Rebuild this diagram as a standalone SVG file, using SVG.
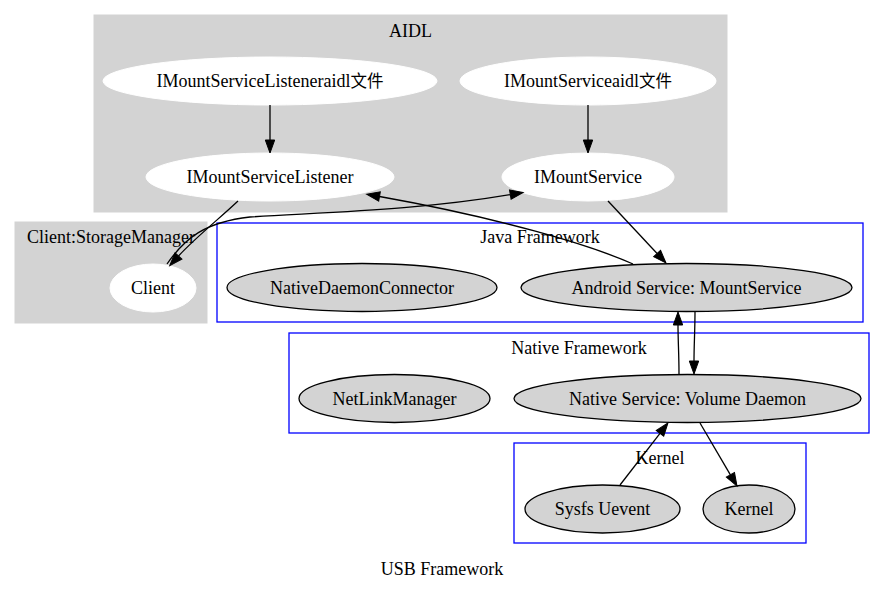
<svg xmlns="http://www.w3.org/2000/svg" width="885" height="591" viewBox="0 0 885 591">
<style>
text{font-family:"Liberation Serif","Noto Sans CJK SC",serif;font-size:18px;fill:#000;text-anchor:middle}
.cjk{font-family:"Noto Sans CJK SC",sans-serif;font-size:16.5px}
.gc{fill:#d3d3d3;stroke:#d3d3d3}
.bc{fill:#fff;stroke:#0000ff;stroke-width:1.3}
.wn{fill:#fff;stroke:#fff}
.gn{fill:#d3d3d3;stroke:#000;stroke-width:1.3}
.e{fill:none;stroke:#000;stroke-width:1.3;marker-end:url(#ah)}
</style>
<defs>
<marker id="ah" markerUnits="userSpaceOnUse" markerWidth="14" markerHeight="10" refX="0" refY="5" orient="auto" overflow="visible">
<path d="M0,0.3 L13,5 L0,9.7 Z" fill="#000" stroke="#000" stroke-width="1"/>
</marker>
</defs>
<rect width="885" height="591" fill="#fff"/>
<g id="cluster_aidl">
<rect class="gc" x="94" y="15" width="633" height="197"/>
<text x="410.5" y="37">AIDL</text>
</g>
<g id="cluster_client">
<rect class="gc" x="15" y="222" width="192" height="101"/>
<text x="111" y="243">Client:StorageManager</text>
</g>
<g id="cluster_java">
<rect class="bc" x="217" y="223" width="646" height="99"/>
<text x="540" y="243">Java Framework</text>
</g>
<g id="cluster_native">
<rect class="bc" x="289" y="333" width="580" height="100"/>
<text x="579" y="354">Native Framework</text>
</g>
<g id="cluster_kernel">
<rect class="bc" x="514" y="443" width="292" height="100"/>
<text x="660" y="464">Kernel</text>
</g>
<g id="node_listener_aidl">
<ellipse class="wn" cx="270" cy="81" rx="167" ry="24"/>
<text x="270" y="87">IMountServiceListeneraidl<tspan class="cjk">文件</tspan></text>
</g>
<g id="node_service_aidl">
<ellipse class="wn" cx="588" cy="81" rx="128" ry="24"/>
<text x="588" y="87">IMountServiceaidl<tspan class="cjk">文件</tspan></text>
</g>
<g id="node_listener">
<ellipse class="wn" cx="270" cy="177" rx="124" ry="24"/>
<text x="270" y="183">IMountServiceListener</text>
</g>
<g id="node_service">
<ellipse class="wn" cx="588" cy="177" rx="86" ry="24"/>
<text x="588" y="183">IMountService</text>
</g>
<g id="node_client">
<ellipse class="wn" cx="153" cy="288" rx="43" ry="24"/>
<text x="153" y="294">Client</text>
</g>
<g id="node_ndc">
<ellipse class="gn" cx="362" cy="287.5" rx="135" ry="24"/>
<text x="362" y="293.5">NativeDaemonConnector</text>
</g>
<g id="node_mountservice">
<ellipse class="gn" cx="686.5" cy="287.5" rx="165.5" ry="24"/>
<text x="686.5" y="293.5">Android Service: MountService</text>
</g>
<g id="node_netlink">
<ellipse class="gn" cx="394.5" cy="398.5" rx="95.5" ry="24"/>
<text x="394.5" y="404.5">NetLinkManager</text>
</g>
<g id="node_vold">
<ellipse class="gn" cx="687.5" cy="398.5" rx="173.5" ry="24"/>
<text x="687.5" y="404.5">Native Service: Volume Daemon</text>
</g>
<g id="node_sysfs">
<ellipse class="gn" cx="602.5" cy="509" rx="77.5" ry="24"/>
<text x="602.5" y="515">Sysfs Uevent</text>
</g>
<g id="node_kernel">
<ellipse class="gn" cx="749" cy="509" rx="46" ry="24"/>
<text x="749" y="515">Kernel</text>
</g>
<g id="edges">
<path class="e" d="M270,105 L270,140"/>
<path class="e" d="M588,105 L588,140"/>
<path class="e" d="M238,201 C220,218 195,238 178.5,256"/>
<path class="e" d="M167,264 C185,238 205,222 250,217 C330,212 420,210 510.3,194.6"/>
<path class="e" d="M633,264 C590,245 500,218 379.5,196.5"/>
<path class="e" d="M608,201 L657.1,253.5"/>
<path class="e" d="M679,374 C679,355 678,340 678,325"/>
<path class="e" d="M695,312 C695,330 694,345 694,361"/>
<path class="e" d="M620,485 L660,433.3"/>
<path class="e" d="M700,423 L730.4,474.8"/>
</g>
<text x="442" y="575">USB Framework</text>
</svg>
